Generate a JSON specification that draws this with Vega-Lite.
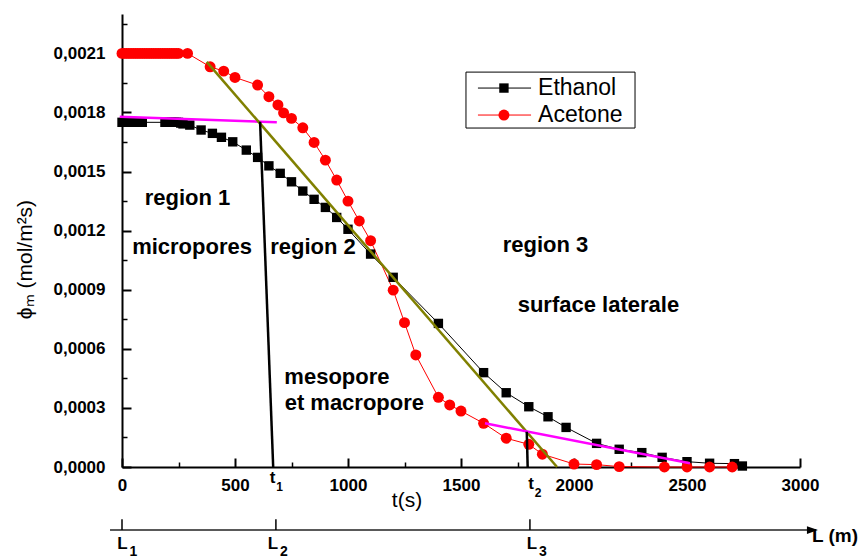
{
  "$schema": "https://vega.github.io/schema/vega-lite/v6.json",
  "width": 678,
  "height": 453,
  "autosize": {"type": "none"},
  "padding": {"left": 122, "top": 14, "right": 63, "bottom": 93},
  "background": "white",
  "config": {"view": {"stroke": null}, "font": "Liberation Sans"},
  "datasets": {
    "series": [
      {"t":0,"phi":0.00175,"solvent":"Ethanol"},{"t":10,"phi":0.00175,"solvent":"Ethanol"},{"t":20,"phi":0.00175,"solvent":"Ethanol"},{"t":30,"phi":0.00175,"solvent":"Ethanol"},{"t":40,"phi":0.00175,"solvent":"Ethanol"},{"t":50,"phi":0.00175,"solvent":"Ethanol"},{"t":60,"phi":0.00175,"solvent":"Ethanol"},{"t":70,"phi":0.00175,"solvent":"Ethanol"},{"t":80,"phi":0.00175,"solvent":"Ethanol"},{"t":90,"phi":0.00175,"solvent":"Ethanol"},
      {"t":190,"phi":0.00175,"solvent":"Ethanol"},{"t":200,"phi":0.00175,"solvent":"Ethanol"},{"t":210,"phi":0.00175,"solvent":"Ethanol"},{"t":220,"phi":0.00175,"solvent":"Ethanol"},{"t":230,"phi":0.00175,"solvent":"Ethanol"},{"t":240,"phi":0.00175,"solvent":"Ethanol"},{"t":250,"phi":0.00175,"solvent":"Ethanol"},{"t":260,"phi":0.001746,"solvent":"Ethanol"},{"t":270,"phi":0.001742,"solvent":"Ethanol"},
      {"t":300,"phi":0.001736,"solvent":"Ethanol"},{"t":350,"phi":0.001711,"solvent":"Ethanol"},{"t":400,"phi":0.001694,"solvent":"Ethanol"},{"t":440,"phi":0.001674,"solvent":"Ethanol"},{"t":490,"phi":0.001651,"solvent":"Ethanol"},{"t":550,"phi":0.001609,"solvent":"Ethanol"},{"t":600,"phi":0.001572,"solvent":"Ethanol"},{"t":650,"phi":0.001529,"solvent":"Ethanol"},{"t":700,"phi":0.001491,"solvent":"Ethanol"},{"t":750,"phi":0.001448,"solvent":"Ethanol"},{"t":800,"phi":0.001401,"solvent":"Ethanol"},{"t":850,"phi":0.001359,"solvent":"Ethanol"},{"t":900,"phi":0.001318,"solvent":"Ethanol"},{"t":950,"phi":0.001267,"solvent":"Ethanol"},{"t":1000,"phi":0.001207,"solvent":"Ethanol"},{"t":1100,"phi":0.001081,"solvent":"Ethanol"},{"t":1200,"phi":0.000963,"solvent":"Ethanol"},{"t":1400,"phi":0.000729,"solvent":"Ethanol"},{"t":1600,"phi":0.000479,"solvent":"Ethanol"},{"t":1700,"phi":0.000377,"solvent":"Ethanol"},{"t":1800,"phi":0.000306,"solvent":"Ethanol"},{"t":1885,"phi":0.000255,"solvent":"Ethanol"},{"t":1965,"phi":0.000201,"solvent":"Ethanol"},{"t":2100,"phi":0.00012,"solvent":"Ethanol"},{"t":2200,"phi":0.00009,"solvent":"Ethanol"},{"t":2300,"phi":0.000073,"solvent":"Ethanol"},{"t":2390,"phi":0.000049,"solvent":"Ethanol"},{"t":2500,"phi":0.000027,"solvent":"Ethanol"},{"t":2600,"phi":0.000019,"solvent":"Ethanol"},{"t":2710,"phi":0.000017,"solvent":"Ethanol"},{"t":2745,"phi":0.000005,"solvent":"Ethanol"},
      {"t":0,"phi":0.0021,"solvent":"Acetone"},{"t":10,"phi":0.0021,"solvent":"Acetone"},{"t":20,"phi":0.0021,"solvent":"Acetone"},{"t":30,"phi":0.0021,"solvent":"Acetone"},{"t":40,"phi":0.0021,"solvent":"Acetone"},{"t":50,"phi":0.0021,"solvent":"Acetone"},{"t":60,"phi":0.0021,"solvent":"Acetone"},{"t":70,"phi":0.0021,"solvent":"Acetone"},{"t":80,"phi":0.0021,"solvent":"Acetone"},{"t":90,"phi":0.0021,"solvent":"Acetone"},{"t":100,"phi":0.0021,"solvent":"Acetone"},{"t":110,"phi":0.0021,"solvent":"Acetone"},{"t":120,"phi":0.0021,"solvent":"Acetone"},{"t":130,"phi":0.0021,"solvent":"Acetone"},{"t":140,"phi":0.0021,"solvent":"Acetone"},{"t":150,"phi":0.0021,"solvent":"Acetone"},{"t":160,"phi":0.0021,"solvent":"Acetone"},{"t":170,"phi":0.0021,"solvent":"Acetone"},{"t":180,"phi":0.0021,"solvent":"Acetone"},{"t":190,"phi":0.0021,"solvent":"Acetone"},{"t":200,"phi":0.0021,"solvent":"Acetone"},{"t":210,"phi":0.0021,"solvent":"Acetone"},{"t":220,"phi":0.0021,"solvent":"Acetone"},{"t":230,"phi":0.0021,"solvent":"Acetone"},{"t":240,"phi":0.0021,"solvent":"Acetone"},{"t":250,"phi":0.0021,"solvent":"Acetone"},{"t":290,"phi":0.0021,"solvent":"Acetone"},
      {"t":390,"phi":0.002032,"solvent":"Acetone"},{"t":450,"phi":0.00201,"solvent":"Acetone"},{"t":500,"phi":0.001978,"solvent":"Acetone"},{"t":600,"phi":0.001939,"solvent":"Acetone"},{"t":650,"phi":0.00188,"solvent":"Acetone"},{"t":690,"phi":0.001838,"solvent":"Acetone"},{"t":715,"phi":0.001798,"solvent":"Acetone"},{"t":750,"phi":0.00177,"solvent":"Acetone"},{"t":800,"phi":0.001722,"solvent":"Acetone"},{"t":850,"phi":0.001648,"solvent":"Acetone"},{"t":900,"phi":0.001558,"solvent":"Acetone"},{"t":950,"phi":0.001457,"solvent":"Acetone"},{"t":1000,"phi":0.00135,"solvent":"Acetone"},{"t":1050,"phi":0.001249,"solvent":"Acetone"},{"t":1100,"phi":0.001149,"solvent":"Acetone"},{"t":1200,"phi":0.000898,"solvent":"Acetone"},{"t":1250,"phi":0.000733,"solvent":"Acetone"},{"t":1300,"phi":0.000569,"solvent":"Acetone"},{"t":1400,"phi":0.000354,"solvent":"Acetone"},{"t":1450,"phi":0.000315,"solvent":"Acetone"},{"t":1500,"phi":0.000284,"solvent":"Acetone"},{"t":1600,"phi":0.000222,"solvent":"Acetone"},{"t":1700,"phi":0.000146,"solvent":"Acetone"},{"t":1800,"phi":0.000115,"solvent":"Acetone"},{"t":1860,"phi":0.000065,"solvent":"Acetone"},{"t":2000,"phi":0.000015,"solvent":"Acetone"},{"t":2100,"phi":0.000012,"solvent":"Acetone"},{"t":2200,"phi":0.000002,"solvent":"Acetone"},{"t":2400,"phi":0,"solvent":"Acetone"},{"t":2500,"phi":0,"solvent":"Acetone"},{"t":2600,"phi":0,"solvent":"Acetone"},{"t":2700,"phi":0,"solvent":"Acetone"}
    ],
    "fits": [
      {"t":-10,"phi":0.001778,"fit":"micro"},{"t":685,"phi":0.00175,"fit":"micro"},
      {"t":375,"phi":0.002057,"fit":"meso"},{"t":1925,"phi":0,"fit":"meso"},
      {"t":611,"phi":0.001753,"fit":"t1"},{"t":669,"phi":0,"fit":"t1"},
      {"t":1606,"phi":0.000222,"fit":"surface"},{"t":2513,"phi":0.0000188,"fit":"surface"},
      {"t":1791,"phi":0.000179,"fit":"t2"},{"t":1795,"phi":0,"fit":"t2"}
    ],
    "labels": [
      {"t":290,"phi":0.001366,"text":"region 1"},
      {"t":310,"phi":0.001118,"text":"micropores"},
      {"t":845,"phi":0.001118,"text":"region 2"},
      {"t":1874,"phi":0.001127,"text":"region 3"},
      {"t":2108,"phi":0.000822,"text":"surface laterale"},
      {"t":951,"phi":0.000455,"text":"mesopore"},
      {"t":1028,"phi":0.000323,"text":"et macropore"}
    ],
    "legendbox": [{"t":1522,"t2":2270,"phi":0.002005,"phi2":0.001721}],
    "legend": [
      {"solvent":"Ethanol","t":1575,"t2":1810,"tm":1690,"tx":1841,"phi":0.001924},
      {"solvent":"Acetone","t":1575,"t2":1810,"tm":1690,"tx":1841,"phi":0.001787}
    ],
    "tmarks": [
      {"t":666,"phi":-0.0000558,"base":"t","sub":"1"},
      {"t":1810,"phi":-0.0000863,"base":"t","sub":"2"}
    ],
    "lmarks": [
      {"t":2,"phi":-0.000391,"base":"L","sub":"1"},
      {"t":668,"phi":-0.000391,"base":"L","sub":"2"},
      {"t":1814,"phi":-0.000391,"base":"L","sub":"3"}
    ],
    "laxis": [{"t":-53,"t2":3055,"phi":-0.00032,"title":"L (m)","tt":3053,"pt":-0.00035}],
    "lticks": [
      {"t":0,"phi":-0.00032,"phi2":-0.000265},
      {"t":681,"phi":-0.00032,"phi2":-0.000265},
      {"t":1805,"phi":-0.00032,"phi2":-0.000265}
    ]
  },
  "resolve": {"axis": {"x": "independent", "y": "independent"}},
  "layer": [
    {
      "data": {"name": "series"},
      "mark": {"type": "line", "strokeWidth": 1},
      "encoding": {
        "x": {"field": "t", "type": "quantitative",
          "scale": {"domain": [0, 3000], "nice": false, "zero": false},
          "axis": {"orient": "bottom", "values": [0,500,1000,1500,2000,2500,3000], "format": "d",
            "title": "t(s)", "titleFont": "Liberation Sans", "titleFontSize": 21, "titleFontWeight": "normal", "titleColor": "#000",
            "titleX": 284.5, "titleY": 33, "titleBaseline": "middle", "titleAlign": "center", "titleAnchor": null,
            "labelFont": "Liberation Sans", "labelFontSize": 17, "labelFontWeight": "bold", "labelColor": "#000",
            "labelPadding": 19, "labelFlush": false, "labelOverlap": false,
            "tickSize": -9, "tickWidth": 2, "tickColor": "#000", "domainColor": "#000", "domainWidth": 2, "grid": false}},
        "y": {"field": "phi", "type": "quantitative",
          "scale": {"domain": [0, 0.0023], "nice": false, "zero": false},
          "axis": {"orient": "left", "values": [0,0.0003,0.0006,0.0009,0.0012,0.0015,0.0018,0.0021],
            "labelExpr": "replace(format(datum.value, '.4f'), '.', ',')",
            "title": "ϕₘ (mol/m²s)", "titleFont": "Liberation Sans", "titleFontSize": 21, "titleFontWeight": "normal", "titleColor": "#000",
            "titleX": -97, "titleY": 245, "titleAngle": 270, "titleBaseline": "middle", "titleAlign": "center", "titleAnchor": null,
            "labelFont": "Liberation Sans", "labelFontSize": 17, "labelFontWeight": "bold", "labelColor": "#000",
            "labelPadding": 26, "labelOverlap": false, "labelFlush": false,
            "tickSize": -9, "tickWidth": 2, "tickColor": "#000", "domainColor": "#000", "domainWidth": 2, "grid": false}},
        "color": {"field": "solvent", "type": "nominal", "scale": {"domain": ["Ethanol", "Acetone"], "range": ["#000000", "#ff0000"]}, "legend": null},
        "detail": {"field": "solvent"}
      }
    },
    {
      "data": {"name": "series"},
      "mark": {"type": "point", "filled": true, "opacity": 1},
      "encoding": {
        "x": {"field": "t", "type": "quantitative",
          "axis": {"orient": "bottom", "values": [250,750,1250,1750,2250,2750], "labels": false, "domain": false, "title": null,
            "tickSize": -5, "tickWidth": 1.5, "tickColor": "#000", "grid": false}},
        "y": {"field": "phi", "type": "quantitative",
          "axis": {"orient": "left", "values": [0.00015,0.00045,0.00075,0.00105,0.00135,0.00165,0.00195,0.00225], "labels": false, "domain": false, "title": null,
            "tickSize": -5, "tickWidth": 1.5, "tickColor": "#000", "grid": false}},
        "shape": {"field": "solvent", "type": "nominal", "scale": {"domain": ["Ethanol", "Acetone"], "range": ["square", "circle"]}, "legend": null},
        "size": {"field": "solvent", "type": "nominal", "scale": {"domain": ["Ethanol", "Acetone"], "range": [88, 120]}, "legend": null},
        "color": {"field": "solvent", "type": "nominal", "legend": null}
      }
    },
    {
      "data": {"name": "fits"},
      "mark": {"type": "line", "strokeWidth": 2.5},
      "encoding": {
        "x": {"field": "t", "type": "quantitative", "axis": null},
        "y": {"field": "phi", "type": "quantitative", "axis": null},
        "detail": {"field": "fit"},
        "stroke": {"field": "fit", "type": "nominal", "scale": {"domain": ["micro", "meso", "t1", "surface", "t2"], "range": ["#ff00ff", "#808000", "#000000", "#ff00ff", "#000000"]}, "legend": null}
      }
    },
    {
      "data": {"name": "legendbox"},
      "mark": {"type": "rect", "fill": "#ffffff", "stroke": "#000000", "strokeWidth": 1},
      "encoding": {
        "x": {"field": "t", "type": "quantitative", "axis": null},
        "x2": {"field": "t2"},
        "y": {"field": "phi", "type": "quantitative", "axis": null},
        "y2": {"field": "phi2"}
      }
    },
    {
      "data": {"name": "legend"},
      "mark": {"type": "rule", "strokeWidth": 1},
      "encoding": {
        "x": {"field": "t", "type": "quantitative", "axis": null},
        "x2": {"field": "t2"},
        "y": {"field": "phi", "type": "quantitative", "axis": null},
        "color": {"field": "solvent", "type": "nominal", "legend": null}
      }
    },
    {
      "data": {"name": "legend"},
      "mark": {"type": "point", "filled": true, "opacity": 1},
      "encoding": {
        "x": {"field": "tm", "type": "quantitative", "axis": null},
        "y": {"field": "phi", "type": "quantitative", "axis": null},
        "shape": {"field": "solvent", "type": "nominal", "legend": null},
        "size": {"field": "solvent", "type": "nominal", "legend": null},
        "color": {"field": "solvent", "type": "nominal", "legend": null}
      }
    },
    {
      "data": {"name": "legend"},
      "mark": {"type": "text", "font": "Liberation Sans", "fontSize": 23, "align": "left", "baseline": "middle", "color": "#000"},
      "encoding": {
        "x": {"field": "tx", "type": "quantitative", "axis": null},
        "y": {"field": "phi", "type": "quantitative", "axis": null},
        "text": {"field": "solvent"}
      }
    },
    {
      "data": {"name": "labels"},
      "mark": {"type": "text", "font": "Liberation Sans", "fontWeight": "bold", "fontSize": 22, "align": "center", "baseline": "middle", "color": "#000"},
      "encoding": {
        "x": {"field": "t", "type": "quantitative", "axis": null},
        "y": {"field": "phi", "type": "quantitative", "axis": null},
        "text": {"field": "text"}
      }
    },
    {
      "data": {"name": "tmarks"},
      "mark": {"type": "text", "font": "Liberation Sans", "fontWeight": "bold", "fontSize": 17, "align": "center", "baseline": "middle", "color": "#000"},
      "encoding": {
        "x": {"field": "t", "type": "quantitative", "axis": null},
        "y": {"field": "phi", "type": "quantitative", "axis": null},
        "text": {"field": "base"}
      }
    },
    {
      "data": {"name": "tmarks"},
      "mark": {"type": "text", "font": "Liberation Sans", "fontWeight": "bold", "fontSize": 12, "align": "center", "baseline": "middle", "color": "#000", "dx": 7, "dy": 9},
      "encoding": {
        "x": {"field": "t", "type": "quantitative", "axis": null},
        "y": {"field": "phi", "type": "quantitative", "axis": null},
        "text": {"field": "sub"}
      }
    },
    {
      "data": {"name": "laxis"},
      "mark": {"type": "rule", "strokeWidth": 1.5, "color": "#222"},
      "encoding": {
        "x": {"field": "t", "type": "quantitative", "axis": null},
        "x2": {"field": "t2"},
        "y": {"field": "phi", "type": "quantitative", "axis": null}
      }
    },
    {
      "data": {"name": "laxis"},
      "mark": {"type": "point", "shape": "M1,0L-1,0.7L-1,-0.7Z", "size": 121, "filled": true, "opacity": 1, "color": "#000"},
      "encoding": {
        "x": {"field": "t2", "type": "quantitative", "axis": null},
        "y": {"field": "phi", "type": "quantitative", "axis": null}
      }
    },
    {
      "data": {"name": "laxis"},
      "mark": {"type": "text", "font": "Liberation Sans", "fontWeight": "bold", "fontSize": 19, "align": "left", "baseline": "middle", "color": "#000"},
      "encoding": {
        "x": {"field": "tt", "type": "quantitative", "axis": null},
        "y": {"field": "pt", "type": "quantitative", "axis": null},
        "text": {"field": "title"}
      }
    },
    {
      "data": {"name": "lticks"},
      "mark": {"type": "rule", "strokeWidth": 1.5, "color": "#000"},
      "encoding": {
        "x": {"field": "t", "type": "quantitative", "axis": null},
        "y": {"field": "phi", "type": "quantitative", "axis": null},
        "y2": {"field": "phi2"}
      }
    },
    {
      "data": {"name": "lmarks"},
      "mark": {"type": "text", "font": "Liberation Sans", "fontWeight": "bold", "fontSize": 17, "align": "center", "baseline": "middle", "color": "#000"},
      "encoding": {
        "x": {"field": "t", "type": "quantitative", "axis": null},
        "y": {"field": "phi", "type": "quantitative", "axis": null},
        "text": {"field": "base"}
      }
    },
    {
      "data": {"name": "lmarks"},
      "mark": {"type": "text", "font": "Liberation Sans", "fontWeight": "bold", "fontSize": 14, "align": "center", "baseline": "middle", "color": "#000", "dx": 11, "dy": 8},
      "encoding": {
        "x": {"field": "t", "type": "quantitative", "axis": null},
        "y": {"field": "phi", "type": "quantitative", "axis": null},
        "text": {"field": "sub"}
      }
    }
  ]
}
